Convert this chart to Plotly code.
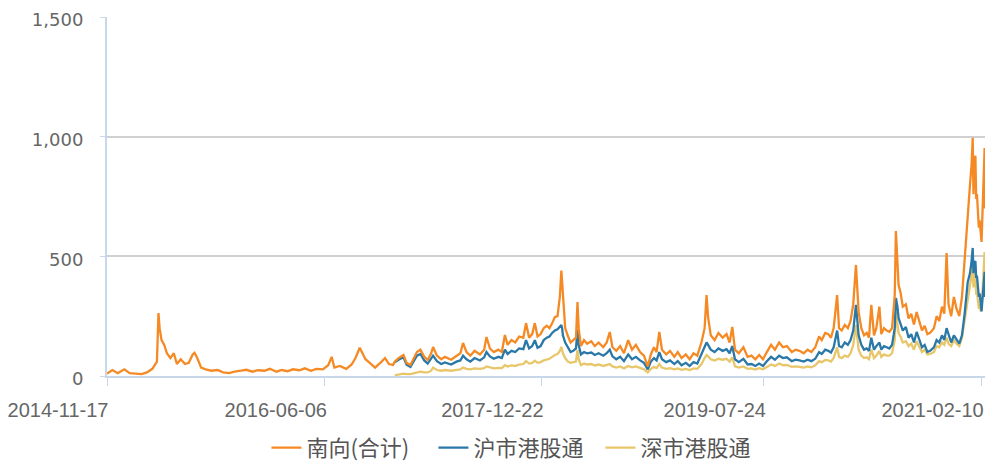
import plotly.graph_objects as go

# ---- early period: only Shanghai connect existed (total only) ----
dates_early = [
    "2014-11-17", "2014-12-01", "2014-12-15", "2015-01-01", "2015-01-15", "2015-02-01", "2015-02-15", "2015-03-01", "2015-03-15", "2015-03-27",
    "2015-03-31", "2015-04-03", "2015-04-08", "2015-04-15", "2015-04-22", "2015-05-01", "2015-05-10", "2015-05-18", "2015-05-28", "2015-06-08",
    "2015-06-18", "2015-06-28", "2015-07-03", "2015-07-10", "2015-07-20", "2015-08-01", "2015-08-15", "2015-09-01", "2015-09-15", "2015-10-01",
    "2015-10-15", "2015-11-01", "2015-11-15", "2015-12-01", "2015-12-15", "2016-01-01", "2016-01-15", "2016-02-01", "2016-02-15", "2016-03-01",
    "2016-03-15", "2016-04-01", "2016-04-15", "2016-05-01", "2016-05-15", "2016-06-01", "2016-06-15", "2016-06-24", "2016-07-01", "2016-07-15",
    "2016-08-01", "2016-08-15", "2016-08-25", "2016-09-05", "2016-09-12", "2016-09-20", "2016-10-01", "2016-10-15", "2016-11-01", "2016-11-10",
    "2016-11-20", "2016-12-01",
]
total_early = [
    10, 25, 12, 28, 12, 10, 8, 15, 30, 60,
    263, 200, 150, 130, 95, 75, 95, 50, 70, 50,
    55, 90, 97, 75, 35, 28, 22, 25, 15, 12,
    18, 22, 26, 18, 24, 22, 30, 18, 25, 20,
    28, 24, 32, 22, 30, 28, 45, 80, 35, 42,
    30, 48, 75, 118, 95, 70, 55, 35, 60, 75,
    50, 46,
]

# ---- period with both Shanghai and Shenzhen connect ----
dates_conn = [
    "2016-12-05", "2016-12-15", "2016-12-28", "2017-01-05", "2017-01-15", "2017-01-25", "2017-02-01", "2017-02-10", "2017-02-20", "2017-03-01",
    "2017-03-10", "2017-03-15", "2017-03-25", "2017-04-05", "2017-04-15", "2017-05-01", "2017-05-15", "2017-05-25", "2017-06-01", "2017-06-10",
    "2017-06-20", "2017-07-01", "2017-07-15", "2017-07-26", "2017-08-01", "2017-08-10", "2017-08-20", "2017-09-01", "2017-09-10", "2017-09-18",
    "2017-09-25", "2017-10-05", "2017-10-15", "2017-10-25", "2017-11-05", "2017-11-12", "2017-11-20", "2017-11-28", "2017-12-05", "2017-12-12",
    "2017-12-20", "2017-12-28", "2018-01-05", "2018-01-12", "2018-01-19", "2018-01-26", "2018-02-02", "2018-02-08", "2018-02-12", "2018-02-14",
    "2018-02-16", "2018-02-22", "2018-03-01", "2018-03-08", "2018-03-15", "2018-03-22", "2018-03-26", "2018-03-29", "2018-04-04", "2018-04-12",
    "2018-04-20", "2018-05-01", "2018-05-10", "2018-05-20", "2018-06-01", "2018-06-10", "2018-06-18", "2018-06-25", "2018-07-05", "2018-07-15",
    "2018-07-25", "2018-08-05", "2018-08-15", "2018-08-25", "2018-09-05", "2018-09-15", "2018-09-25", "2018-10-03", "2018-10-11", "2018-10-18",
    "2018-10-25", "2018-11-01", "2018-11-12", "2018-11-22", "2018-12-03", "2018-12-12", "2018-12-22", "2019-01-02", "2019-01-12", "2019-01-22",
    "2019-02-01", "2019-02-12", "2019-02-20", "2019-02-25", "2019-03-01", "2019-03-08", "2019-03-18", "2019-03-28", "2019-04-08", "2019-04-18",
    "2019-04-26", "2019-05-03", "2019-05-10", "2019-05-20", "2019-06-01", "2019-06-12", "2019-06-22", "2019-07-02", "2019-07-12", "2019-07-22",
    "2019-08-01", "2019-08-12", "2019-08-22", "2019-09-02", "2019-09-12", "2019-09-22", "2019-10-05", "2019-10-15", "2019-10-25", "2019-11-05",
    "2019-11-15", "2019-11-25", "2019-12-05", "2019-12-15", "2019-12-22", "2019-12-31", "2020-01-08", "2020-01-15", "2020-01-22", "2020-01-31",
    "2020-02-05", "2020-02-12", "2020-02-20", "2020-02-28", "2020-03-06", "2020-03-13", "2020-03-20", "2020-03-24", "2020-03-27", "2020-04-03",
    "2020-04-10", "2020-04-17", "2020-04-23", "2020-04-29", "2020-05-06", "2020-05-12", "2020-05-20", "2020-05-25", "2020-06-01", "2020-06-08",
    "2020-06-15", "2020-06-22", "2020-06-29", "2020-07-02", "2020-07-06", "2020-07-09", "2020-07-14", "2020-07-20", "2020-07-28", "2020-08-04",
    "2020-08-11", "2020-08-18", "2020-08-25", "2020-09-01", "2020-09-08", "2020-09-15", "2020-09-22", "2020-09-29", "2020-10-09", "2020-10-16",
    "2020-10-23", "2020-10-30", "2020-11-05", "2020-11-11", "2020-11-16", "2020-11-23", "2020-11-30", "2020-12-07", "2020-12-14", "2020-12-21",
    "2020-12-28", "2021-01-05", "2021-01-11", "2021-01-15", "2021-01-18", "2021-01-20", "2021-01-22", "2021-01-25", "2021-01-27", "2021-01-29",
    "2021-02-01", "2021-02-03", "2021-02-05", "2021-02-08", "2021-02-10", "2021-02-18", "2021-02-19",
]
total_conn = [
    60, 75, 88, 55, 46, 80, 100, 110, 80, 67,
    95, 121, 85, 70, 80, 68, 85, 95, 138, 100,
    85, 105, 90, 110, 163, 115, 100, 110, 100, 171,
    130, 150, 140, 165, 160, 221, 160, 175, 221, 165,
    175, 200, 210, 200, 220, 246, 250, 330, 440, 392,
    305, 200, 167, 140, 150, 160, 309, 200, 125, 150,
    135, 145, 125, 140, 120, 140, 184, 120, 105, 125,
    95, 150, 110, 130, 100, 85, 40, 90, 120, 100,
    184, 110, 90, 105, 80, 100, 75, 90, 70, 95,
    85, 142, 200, 338, 246, 170, 150, 180, 160, 175,
    140, 205, 110, 95, 120, 80, 85, 70, 88, 70,
    100, 130, 110, 140, 120, 125, 100, 110, 105, 95,
    110, 100, 120, 165, 150, 180, 175, 160, 200, 338,
    200, 190, 213, 200, 230, 300, 464, 350, 267, 200,
    170, 180, 160, 297, 170, 200, 290, 175, 200, 190,
    185, 200, 338, 606, 493, 380, 350, 290, 300, 240,
    260, 215, 267, 230, 190, 210, 175, 180, 200, 250,
    230, 290, 260, 514, 300, 250, 330, 280, 250, 330,
    500, 685, 800, 880, 995, 760, 900, 920, 740, 760,
    640, 620, 650, 570, 560, 953, 700,
]
sh_conn = [
    57, 68, 78, 47, 38, 68, 85, 92, 65, 52,
    72, 85, 62, 50, 57, 48, 60, 65, 85, 70,
    60, 75, 65, 78, 100, 82, 72, 80, 75, 110,
    92, 105, 100, 115, 112, 150, 115, 125, 150, 118,
    125, 150, 160, 165, 180, 190, 195, 205, 213, 200,
    170, 140, 121, 100, 105, 115, 192, 130, 90, 100,
    95, 98, 88, 95, 85, 95, 110, 82, 70, 80,
    62, 90, 70, 80, 65, 55, 28, 60, 75, 65,
    100, 70, 58, 65, 50, 62, 45, 55, 42, 58,
    52, 90, 120, 140, 130, 110, 100, 115, 105, 112,
    95, 125, 70, 58, 72, 48, 50, 42, 52, 42,
    62, 80, 68, 85, 75, 78, 62, 68, 65, 60,
    68, 62, 72, 100, 92, 110, 105, 98, 120, 190,
    125, 120, 140, 130, 150, 190, 297, 230, 170, 130,
    110, 115, 105, 160, 110, 125, 140, 110, 125, 120,
    115, 130, 200, 326, 290, 242, 220, 190, 205, 160,
    175, 140, 184, 150, 120, 130, 100, 105, 120, 150,
    140, 170, 150, 200, 170, 140, 170, 150, 135, 170,
    260, 392, 430, 480, 535, 430, 470, 480, 410, 420,
    340, 330, 345, 290, 270, 435, 330,
]
sz_conn = [
    3, 7, 10, 8, 8, 12, 15, 18, 15, 15,
    22, 35, 25, 22, 25, 22, 26, 28, 35, 30,
    28, 32, 30, 33, 40, 35, 32, 34, 33, 45,
    40, 44, 42, 48, 50, 62, 52, 55, 64, 55,
    58, 65, 70, 72, 80, 88, 92, 105, 121, 110,
    95, 75, 60, 55, 56, 60, 109, 70, 45, 52,
    48, 50, 44, 48, 42, 46, 50, 40, 35, 40,
    32, 42, 36, 40, 32, 28, 15, 30, 38, 33,
    50, 35, 30, 33, 28, 32, 26, 30, 25, 32,
    30, 50, 75, 88, 82, 70, 65, 72, 68, 72,
    60, 78, 40, 35, 40, 30, 32, 27, 33, 28,
    38, 48, 42, 52, 45, 46, 38, 40, 38, 35,
    40, 36, 45, 62, 58, 67, 65, 60, 75, 120,
    80, 75, 85, 80, 95, 130, 213, 150, 110, 85,
    75, 78, 70, 110, 75, 85, 105, 80, 90, 85,
    85, 95, 150, 267, 220, 180, 165, 140, 145, 125,
    135, 110, 145, 120, 100, 110, 90, 92, 100, 125,
    120, 140, 130, 160, 135, 125, 150, 135, 125, 160,
    240, 326, 380, 420, 464, 370, 420, 430, 340, 350,
    290, 280, 300, 270, 280, 518, 370,
]

series_names = ["南向(合计)", "沪市港股通", "深市港股通"]
series_colors = ["#F58A24", "#2A78A8", "#E8C66A"]

tick_dates = ["2014-11-17", "2016-06-06", "2017-12-22", "2019-07-24", "2021-02-10"]
tick_labels = ["2014-11-17", "2016-06-06", "2017-12-22", "2019-07-24", "2021-02-10"]
y_ticks = [0, 500, 1000, 1500]

LW = 2.3
fig = go.Figure()
# draw order: Shenzhen (bottom), Shanghai, total (top); legend order via legendrank
fig.add_trace(go.Scatter(x=dates_conn, y=sz_conn, mode="lines", name=series_names[2],
                         line=dict(color=series_colors[2], width=LW), legendrank=3))
fig.add_trace(go.Scatter(x=dates_conn, y=sh_conn, mode="lines", name=series_names[1],
                         line=dict(color=series_colors[1], width=LW), legendrank=2))
fig.add_trace(go.Scatter(x=dates_early + dates_conn, y=total_early + total_conn, mode="lines",
                         name=series_names[0], line=dict(color=series_colors[0], width=LW),
                         legendrank=1))

# the page body adds an 8px offset; figure is sized to fit the 1002x468 window
axis_blue = "#C9D7EA"
fig.update_layout(
    width=994, height=460, autosize=False,
    margin=dict(l=99, r=17, t=9, b=92, autoexpand=False),
    paper_bgcolor="white", plot_bgcolor="white",
    showlegend=True,
    legend=dict(orientation="h", xref="container", x=0.512, xanchor="center",
                y=-0.2, yanchor="middle",
                font=dict(family="Noto Sans CJK SC", size=22, color="#555555"),
                itemwidth=30, tracegroupgap=0,
                entrywidth=122, entrywidthmode="pixels"),
    xaxis=dict(type="date", range=["2014-11-17", "2021-02-19"], automargin=False,
               tickmode="array", tickvals=tick_dates, ticktext=tick_labels,
               showgrid=False, zeroline=False,
               showline=True, linecolor=axis_blue, linewidth=2,
               ticks="outside", ticklen=8, tickcolor=axis_blue, tickwidth=1,
               tickfont=dict(family="Liberation Sans", size=20, color="#666666"),
               ticklabelstandoff=7, ticklabelshift=-49, ticklabeloverflow="allow"),
    yaxis=dict(range=[0, 1500], tickmode="array", tickvals=y_ticks, tickformat=",",
               automargin=False,
               showgrid=True, gridcolor="#D0D0D0", gridwidth=1.5, zeroline=False,
               showline=True, linecolor=axis_blue, linewidth=2,
               ticks="outside", ticklen=5, tickcolor=axis_blue,
               tickfont=dict(family="DejaVu Sans", size=18, color="#666666"),
               ticklabelstandoff=13, ticklabelshift=3, ticklabeloverflow="allow"),
)

fig.write_html("out.html")
